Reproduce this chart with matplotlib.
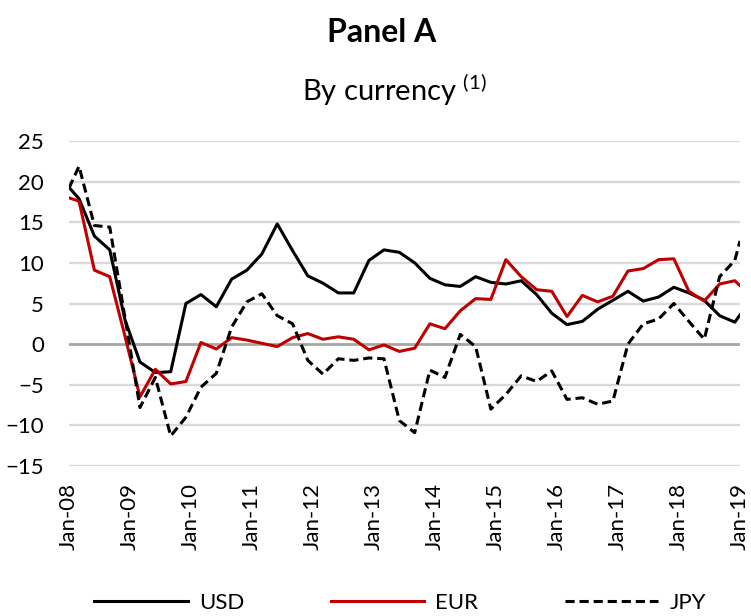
import numpy as np
import pandas as pd
import matplotlib
matplotlib.use('Agg')
import matplotlib.pyplot as plt

# quarterly observations, Jan-08 .. Jan-19
dates = pd.to_datetime(['2008-01-01'] +
                       list(pd.date_range('2008-03-01', '2018-12-01', freq='3MS').strftime('%Y-%m-%d')) +
                       ['2019-01-01'])

usd = [19.3, 17.9, 13.3, 11.6, 3.0, -2.2, -3.5, -3.4, 5.0, 6.1,
       4.6, 8.0, 9.1, 11.1, 14.8, 11.5, 8.4, 7.5, 6.3, 6.3,
       10.3, 11.6, 11.3, 10.0, 8.1, 7.3, 7.1, 8.3, 7.6, 7.4,
       7.8, 6.1, 3.8, 2.4, 2.8, 4.3, 5.4, 6.5, 5.3, 5.8,
       7.0, 6.3, 5.4, 3.5, 2.7, 3.6]
eur = [18.0, 17.6, 9.1, 8.3, 1.0, -6.5, -3.1, -4.9, -4.6, 0.2,
       -0.6, 0.8, 0.5, 0.1, -0.3, 0.8, 1.3, 0.6, 0.9, 0.6,
       -0.7, -0.1, -0.9, -0.5, 2.5, 1.9, 4.1, 5.6, 5.5, 10.4,
       8.3, 6.7, 6.5, 3.4, 6.0, 5.2, 5.9, 9.0, 9.3, 10.4,
       10.5, 6.5, 5.3, 7.4, 7.8, 7.2]
jpy = [19.2, 21.9, 14.6, 14.4, 3.3, -7.8, -4.1, -11.3, -9.0, -5.3,
       -3.6, 2.1, 5.2, 6.2, 3.5, 2.5, -2.0, -3.7, -1.8, -2.0,
       -1.7, -1.8, -9.4, -10.9, -3.2, -4.1, 1.2, -0.3, -8.0, -6.2,
       -3.9, -4.6, -3.3, -6.8, -6.6, -7.4, -7.0, 0.0, 2.5, 3.1,
       5.0, 2.8, 0.6, 8.3, 10.3, 12.7]

tick_dates = pd.date_range('2008-01-01', '2019-01-01', freq='YS')
tick_labels = ['Jan-08', 'Jan-09', 'Jan-10', 'Jan-11', 'Jan-12', 'Jan-13',
               'Jan-14', 'Jan-15', 'Jan-16', 'Jan-17', 'Jan-18', 'Jan-19']
y_ticks = [-15, -10, -5, 0, 5, 10, 15, 20, 25]

plt.rcParams['font.family'] = ['Lato', 'DejaVu Sans']

fig = plt.figure(figsize=(7.51, 6.16), dpi=100)
ax = fig.add_axes([69 / 751, 150 / 616, 671 / 751, 325 / 616])

for y in y_ticks:
    if y == 0:
        ax.axhline(y, color='#a6a6a6', lw=2.0, zorder=1)
    else:
        ax.axhline(y, color='#d9d9d9', lw=1.7, zorder=1)

ax.plot(dates, usd, color='black', lw=2.2, label='USD', zorder=3)
ax.plot(dates, eur, color='#c00000', lw=2.2, label='EUR', zorder=3)
ax.plot(dates, jpy, color='black', lw=2.2, ls=(0, (3.0, 1.6)), label='JPY', zorder=3)

ax.set_xlim(tick_dates[0], tick_dates[-1])
ax.set_ylim(-15, 25)
ax.set_yticks(y_ticks)
ax.set_xticks(tick_dates)
ax.set_xticklabels(tick_labels, rotation=90, fontsize=16)
ax.tick_params(axis='y', length=0, pad=18, labelsize=16)
ax.tick_params(axis='x', length=0, pad=12)
for s in ax.spines.values():
    s.set_visible(False)

fig.text(382 / 751, 1 - 32 / 616, 'Panel A', ha='center', va='center',
         fontsize=23, fontweight='bold')
fig.text(394 / 751, 1 - 90 / 616, r'By currency $^{\mathregular{(1)}}$',
         ha='center', va='center', fontsize=21)

fig.legend(loc='center', bbox_to_anchor=(400 / 751, 1 - 603 / 616), ncol=3,
           frameon=False, fontsize=16, handlelength=4.2, handletextpad=0.5,
           columnspacing=3.9)

fig.savefig('out.png', dpi=100)
